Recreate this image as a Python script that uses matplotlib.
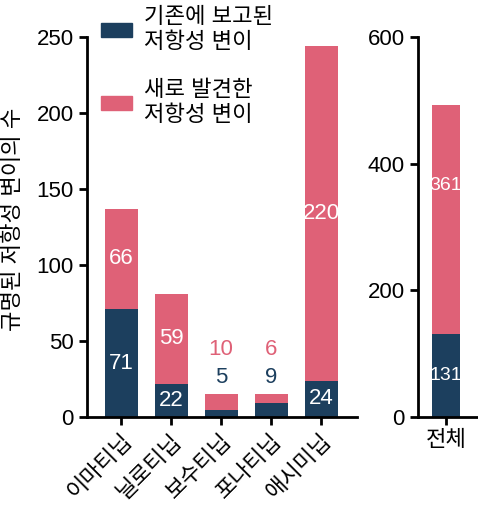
import matplotlib
matplotlib.use("Agg")
import matplotlib.pyplot as plt
from matplotlib.patches import Patch

plt.rcParams['font.family'] = ['Liberation Sans', 'Noto Sans CJK KR']

drugs = ['이마티닙', '닐로티닙', '보수티닙', '포나티닙', '애시미닙']
known = [71, 22, 5, 9, 24]
novel = [66, 59, 10, 6, 220]
total_label = ['전체']
total_known = [131]
total_novel = [361]

navy = '#1c3f5e'
pink = '#df6177'
legend_labels = ['기존에 보고된\n저항성 변이', '새로 발견한\n저항성 변이']
ylabel = '규명된 저항성 변이의 수'

FS = 16
fig = plt.figure(figsize=(4.78, 5.05), dpi=100)
ax1 = fig.add_axes([0.182, 0.174, 0.565, 0.753])
ax2 = fig.add_axes([0.874, 0.174, 0.124, 0.753])

def style(ax):
    for s in ['top', 'right']:
        ax.spines[s].set_visible(False)
    for s in ['left', 'bottom']:
        ax.spines[s].set_linewidth(2)
    ax.tick_params(width=2, length=6, labelsize=FS, direction='out')

x = list(range(len(drugs)))
ax1.bar(x, known, width=0.66, color=navy)
ax1.bar(x, novel, width=0.66, bottom=known, color=pink)
ax1.set_xlim(-0.68, 4.72)
ax1.set_ylim(0, 250)
ax1.set_yticks([0, 50, 100, 150, 200, 250])
ax1.set_xticks(x)
ax1.set_xticklabels(drugs, rotation=45, ha='right', rotation_mode='anchor')
style(ax1)
ax1.set_ylabel(ylabel, fontsize=FS)
ax1.yaxis.set_label_coords(-0.232, 0.52)

for i, (k, n) in enumerate(zip(known, novel)):
    if k + n < 30:
        top = k + n
        ax1.annotate(str(k), (i, top), xytext=(0, 12), textcoords='offset points',
                     ha='center', va='center', color=navy, fontsize=FS)
        ax1.annotate(str(n), (i, top), xytext=(0, 32), textcoords='offset points',
                     ha='center', va='center', color=pink, fontsize=FS)
    else:
        ax1.text(i, k / 2, str(k), ha='center', va='center', color='white', fontsize=FS)
        ax1.text(i, k + n / 2, str(n), ha='center', va='center', color='white', fontsize=FS)

ax2.bar([0], total_known, width=0.47, color=navy)
ax2.bar([0], total_novel, width=0.47, bottom=total_known, color=pink)
ax2.set_xlim(-0.475, 0.525)
ax2.set_ylim(0, 600)
ax2.set_yticks([0, 200, 400, 600])
ax2.set_xticks([0])
ax2.set_xticklabels(total_label)
style(ax2)
ax2.text(0, total_known[0] / 2, str(total_known[0]), ha='center', va='center', color='white', fontsize=14)
ax2.text(0, total_known[0] + total_novel[0] * 0.65, str(total_novel[0]), ha='center', va='center', color='white', fontsize=14)

handles = [Patch(color=navy), Patch(color=pink)]
fig.legend(handles, legend_labels, loc='upper left', bbox_to_anchor=(0.169, 1.025),
           frameon=False, fontsize=FS, handlelength=1.4, handleheight=0.6,
           labelspacing=1.25, handletextpad=0.55)

fig.savefig('out.png', dpi=100)
